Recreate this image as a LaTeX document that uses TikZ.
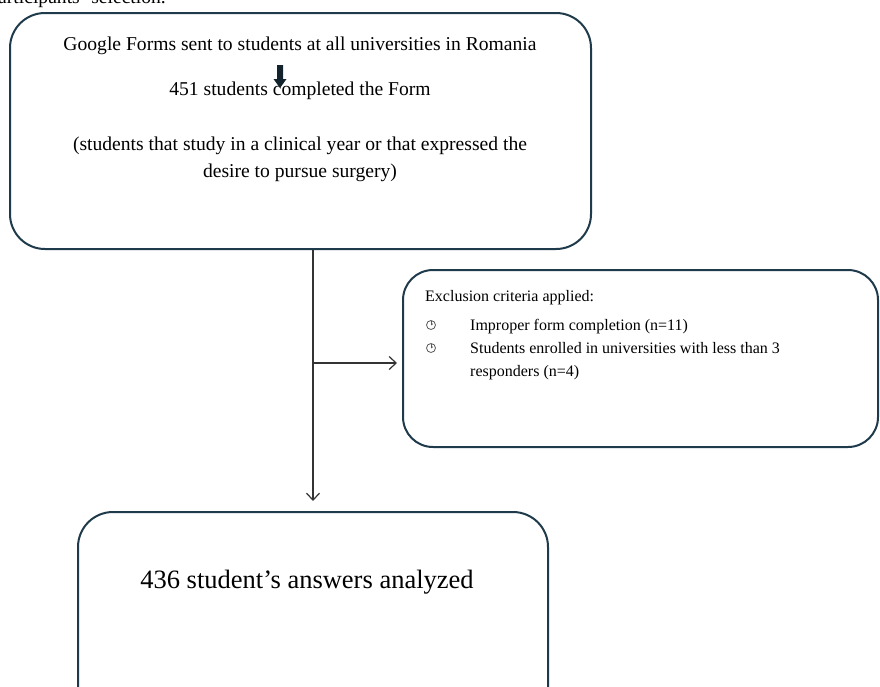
\documentclass[tikz,border=0pt]{standalone}
\usepackage{fontspec}
\setmainfont{Liberation Serif}
\usetikzlibrary{arrows.meta,calc}
\definecolor{boxline}{HTML}{1F3A4B}
\definecolor{connline}{HTML}{333333}
\tikzset{
  roundbox/.style={draw=boxline, line width=2pt, rounded corners=#1, inner sep=0pt},
  conn/.style={draw=connline, line width=1.2pt},
  tip/.style={-{Straight Barb[length=7pt,width=13pt,line width=1.2pt]}},
  bigtxt/.style={font=\fontsize{19.6}{24}\selectfont, inner sep=0pt, anchor=base},
  smalltxt/.style={font=\fontsize{16}{19}\selectfont, inner sep=0pt, anchor=base west},
  hugetxt/.style={font=\fontsize{26.5}{32}\selectfont, inner sep=0pt, anchor=base},
  bulletsym/.style={circle, draw=black!65, line width=0.8pt, minimum size=9pt, inner sep=0pt,
    path picture={\draw[black!65, line width=0.8pt] (path picture bounding box.center) -- (path picture bounding box.north);
                  \draw[black!65, line width=0.8pt] (path picture bounding box.center) -- ++(1.8pt,1.2pt);}}
}
\begin{document}
\begin{tikzpicture}[x=1pt,y=-1pt]
\useasboundingbox (0,0) rectangle (880,686);

% partially visible caption at the top edge
\node[bigtxt, anchor=base west] (cap) at (-2,3) {articipants’ selection.};

% boxes
\node[roundbox=35pt, minimum width=581pt, minimum height=236pt] (box1) at (300.5,131) {};
\node[roundbox=30pt, minimum width=475pt, minimum height=177pt] (box2) at (640.5,358.5) {};
\node[roundbox=35pt, minimum width=470pt, minimum height=230pt] (box3) at (313,627) {};

% box 1 text
\node[bigtxt] (t1) at (300,50) {Google Forms sent to students at all universities in Romania};
\node[bigtxt] (t2) at (300,95) {451 students completed the Form};
\node[bigtxt] (t3) at (300,150) {(students that study in a clinical year or that expressed the};
\node[bigtxt] (t4) at (300,177) {desire to pursue surgery)};

% small block arrow
\fill[boxline!60!black] (277,65) -- (283,65) -- (283,79) -- (286.5,79) -- (280,88) -- (273.5,79) -- (277,79) -- cycle;

% box 2 text
\node[smalltxt] (e0) at (425,301) {Exclusion criteria applied:};
\node[bulletsym] (b1) at (431,325) {};
\node[smalltxt] (e1) at (470,330) {Improper form completion (n=11)};
\node[bulletsym] (b2) at (431,348) {};
\node[smalltxt] (e2) at (470,353) {Students enrolled in universities with less than 3};
\node[smalltxt] (e3) at (470,376) {responders (n=4)};

% box 3 text
\node[hugetxt] (t5) at (307,588) {436 student’s answers analyzed};

% connectors
\coordinate (br) at (box1.south -| box3.north);
\coordinate (branch) at ($(br)+(0,113)$);
\draw[conn, tip, shorten >=10pt] (br) -- (box3.north);
\draw[conn, tip, shorten >=5pt] (branch) -- (branch -| box2.west);
\end{tikzpicture}
\end{document}
